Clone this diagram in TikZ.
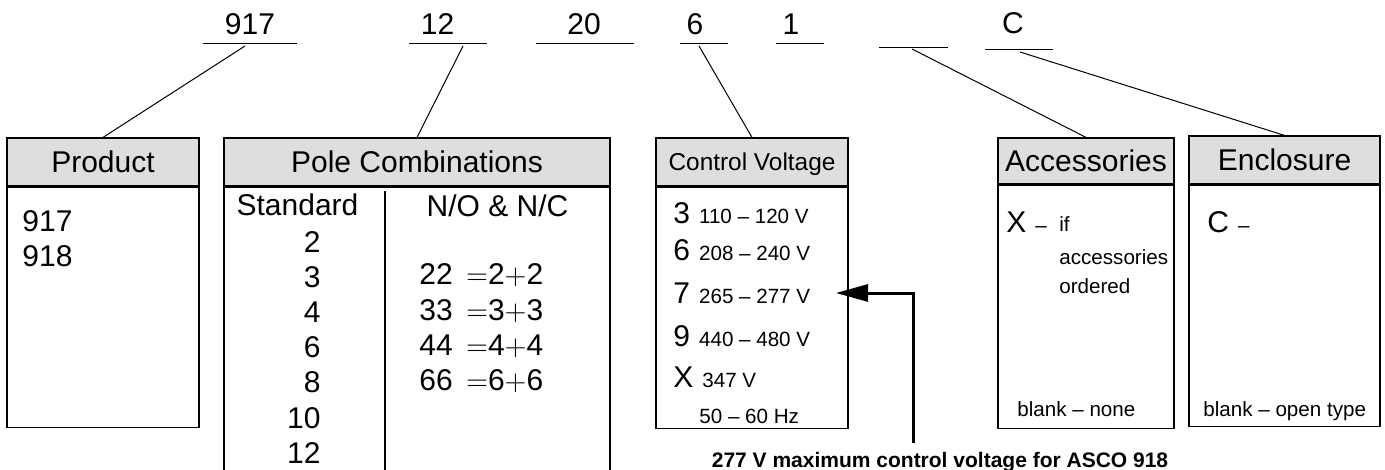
\documentclass[tikz,border=0pt]{standalone}
\usepackage{fontspec}
\setmainfont{Liberation Sans}
\usepackage{xcolor}
\usetikzlibrary{positioning, arrows.meta}
\definecolor{headgray}{HTML}{DEDEDE}

\newcommand{\bigfont}{\fontsize{15pt}{18pt}\selectfont}
\newcommand{\cvfont}{\fontsize{12.2pt}{14pt}\selectfont}
\newcommand{\smallfont}{\fontsize{10.3pt}{12pt}\selectfont}
\newcommand{\notefont}{\fontsize{10.5pt}{12pt}\selectfont}

\begin{document}
\begin{tikzpicture}[x = 0.5pt, y = -0.5pt,
        head/.style = {fill = headgray, draw, rectangle, line width = 0.6pt, font = \bigfont, text height = 10.7pt, text depth = 0pt, inner sep = 0pt},
        body/.style = {draw, rectangle, line width = 0.6pt, inner sep = 0pt},
        big/.style = {font = \bigfont, inner sep = 0pt},
        small/.style = {font = \smallfont, inner sep = 0pt},
        leader/.style = {line width = 0.5pt},
        notearrow/.style = {-{Triangle[length = 16pt, width = 8.5pt]}, line width = 1.5pt}]

        \useasboundingbox (0, 0) rectangle (1385, 470);

        % Catalogue number
        \node [big, anchor = base] (c917) at (250, 35) {917};
        \node [big, anchor = base] (c12) at (437.5, 35) {12};
        \node [big, anchor = base] (c20) at (584, 35) {20};
        \node [big, anchor = base] (c6) at (695, 35) {6};
        \node [big, anchor = base] (c1) at (791, 35) {1};
        \coordinate (cblank) at (913.5, 35);
        \node [big, anchor = base] (cC) at (1013, 34) {C};

        \draw [leader] (c917.base) ++(-47, 9) -- ++(94, 0);
        \draw [leader] (c12.base) ++(-28.5, 9) -- ++(78, 0);
        \draw [leader] (c20.base) ++(-48, 9) -- ++(98, 0);
        \draw [leader] (c6.base) ++(-15, 9) -- ++(48, 0);
        \draw [leader] (c1.base) ++(-15, 9) -- ++(48, 0);
        \draw [leader] (cblank) ++(-34.5, 13) -- ++(69, 0);
        \draw [leader] (cC.base) ++(-28, 16) -- ++(68, 0);

        % Boxes
        \node [head, minimum width = 96pt, minimum height = 24pt] (prod) at (103, 162) {Product};
        \node [body, minimum width = 96pt, minimum height = 120pt, below = 0pt of prod] (prodbody) {};

        \node [head, minimum width = 193pt, minimum height = 24pt] (pole) at (417, 162) {Pole Combinations};
        \node [body, minimum width = 193pt, minimum height = 150pt, below = 0pt of pole] (polebody) {};
        \coordinate (divtop) at (385, 191);
        \draw [line width = 0.6pt] (divtop) -- (divtop |- polebody.south);

        \node [head, font = \cvfont, text height = 8.7pt, minimum width = 96pt, minimum height = 24pt] (cv) at (752, 162) {Control Voltage};
        \node [body, minimum width = 96pt, minimum height = 120.5pt, below = 0pt of cv] (cvbody) {};

        \node [head, minimum width = 88pt, minimum height = 23pt] (acc) at (1086, 161) {Accessories};
        \node [body, minimum width = 88pt, minimum height = 121.5pt, below = 0pt of acc] (accbody) {};

        \node [head, minimum width = 95.5pt, minimum height = 24pt] (enc) at (1284.5, 160) {Enclosure};
        \node [body, minimum width = 95.5pt, minimum height = 120.5pt, below = 0pt of enc] (encbody) {};

        % Leaders
        \coordinate (l917) at (245, 46);
        \coordinate (l12) at (463, 46);
        \coordinate (l6) at (699, 46);
        \coordinate (lblank) at (912, 49);
        \coordinate (lC) at (1020, 52);
        \draw [leader] (l917) -- (prod.north);
        \draw [leader] (l12) -- (pole.north);
        \draw [leader] (l6) -- (cv.north);
        \draw [leader] (lblank) -- (acc.north);
        \draw [leader] (lC) -- (enc.north);

        % Product
        \node [big, anchor = base west] (p917) at (22, 232) {917};
        \node [big, anchor = base west] (p918) at (22, 266) {918};

        % Pole combinations
        \node [big, anchor = base] (std) at (297.5, 216) {Standard};
        \foreach \n [count = \i from 0] in {2, 3, 4, 6, 8, 10, 12}
            \node [big, anchor = base east] (std\n) at (321, {252 + 35.2 * \i}) {\n};
        \node [big, anchor = base] (noc) at (497.5, 217) {N/O \& N/C};
        \foreach \n/\a [count = \i from 0] in {22/2, 33/3, 44/4, 66/6}
            \node [big, anchor = base west] (noc\n) at (419, {285 + 35 * \i}) {\n\ \,$=$\a$+$\a};

        % Control voltage
        \foreach \k/\v/\y in {3/110 – 120 V/223, 6/208 – 240 V/260, 7/265 – 277 V/303, 9/440 – 480 V/346, X/347 V/387}
            \node [big, anchor = base west] (v\k) at (673, \y) {\k\hspace{4.5pt}{\smallfont\v}};
        \node [small, anchor = base west] (hz) at (699, 423) {50 – 60 Hz};

        % Accessories
        \node [big, anchor = base west] (accx) at (1006, 233) {X\hspace{4.5pt}{\smallfont –}};
        \node [small, anchor = base west] (accif) at (1059, 232) {if};
        \node [small, anchor = base west] (accl2) at (1059, 264) {accessories};
        \node [small, anchor = base west] (accl3) at (1059, 293) {ordered};
        \node [small, anchor = base west] (accnone) at (1017, 416) {blank – none};

        % Enclosure
        \node [big, anchor = base west] (encc) at (1207, 233) {C\hspace{4.5pt}{\smallfont –}};
        \node [small, anchor = base west] (encnone) at (1203, 416) {blank – open type};

        % Note
        \node [font = \notefont\bfseries, inner sep = 0pt, anchor = base] (note) at (940, 467) {277 V maximum control voltage for ASCO 918};
        \coordinate (tip7) at (836, 293);
        \coordinate (foot) at (913, 443);
        \draw [notearrow] (foot) |- (tip7);

\end{tikzpicture}
\end{document}
